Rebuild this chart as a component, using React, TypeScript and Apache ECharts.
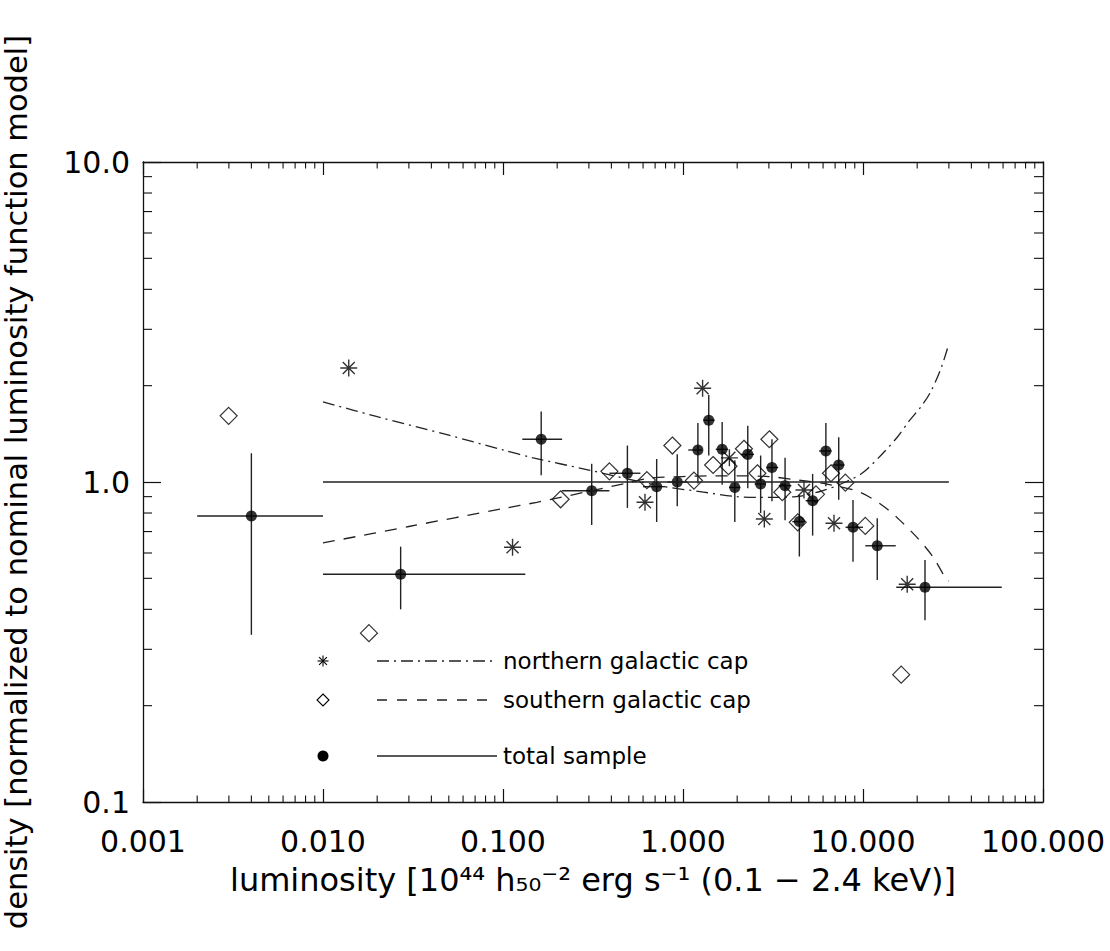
import React, { useEffect, useRef } from "react";
import * as echarts from "echarts";

// ---- total sample (filled circles with error bars) ----
const totalX = [0.004, 0.027, 0.163, 0.311, 0.491, 0.714, 0.929, 1.21, 1.39, 1.65, 1.94, 2.29, 2.7, 3.12, 3.69, 4.43, 5.25, 6.22, 7.33, 8.8, 12.0, 22.1];
const totalY = [0.783, 0.515, 1.36, 0.939, 1.065, 0.967, 1.0, 1.259, 1.56, 1.265, 0.962, 1.22, 0.986, 1.11, 0.974, 0.752, 0.874, 1.25, 1.13, 0.722, 0.632, 0.469];
const totalXLow = [0.002, 0.01, 0.128, 0.213, 0.39, 0.6, 0.82, 1.07, 1.3, 1.52, 1.8, 2.1, 2.5, 2.9, 3.4, 4.05, 4.8, 5.7, 6.75, 8.0, 10.3, 15.3];
const totalXHigh = [0.01, 0.133, 0.213, 0.39, 0.58, 0.8, 1.05, 1.28, 1.5, 1.78, 2.08, 2.48, 2.88, 3.38, 4.0, 4.75, 5.65, 6.7, 7.9, 10.0, 15.2, 59.0];
const totalYLow = [0.333, 0.4, 1.05, 0.734, 0.83, 0.75, 0.84, 0.99, 1.21, 0.98, 0.75, 0.956, 0.8, 0.87, 0.76, 0.585, 0.68, 0.97, 0.88, 0.563, 0.494, 0.37];
const totalYHigh = [1.23, 0.628, 1.66, 1.14, 1.3, 1.18, 1.22, 1.53, 1.87, 1.54, 1.17, 1.5, 1.21, 1.36, 1.19, 0.91, 1.06, 1.53, 1.38, 0.878, 0.77, 0.57];

// ---- northern galactic cap (asterisks) ----
const northX = [0.0139, 0.113, 0.615, 1.285, 1.81, 2.83, 4.7, 6.9, 17.6];
const northY = [2.27, 0.625, 0.864, 1.963, 1.19, 0.766, 0.944, 0.743, 0.479];

// ---- southern galactic cap (diamonds) ----
const southX = [0.00299, 0.018, 0.209, 0.39, 0.63, 0.873, 1.15, 1.47, 1.79, 2.18, 2.59, 3.02, 3.56, 4.34, 5.48, 6.64, 7.98, 10.3, 16.3];
const southY = [1.61, 0.337, 0.883, 1.08, 1.014, 1.3, 1.01, 1.13, 1.12, 1.27, 1.065, 1.36, 0.929, 0.748, 0.915, 1.065, 0.995, 0.729, 0.25];

// ---- model curves ----
const northCurveX = [0.01, 0.02, 0.05, 0.1, 0.147, 0.3, 0.5, 0.79, 1.3, 1.98, 3, 4.24, 6, 8, 10, 12.9, 15.5, 18.2, 21, 23.6, 27, 30];
const northCurveY = [1.78, 1.6, 1.4, 1.26, 1.19, 1.09, 1.02, 0.967, 0.93, 0.9, 0.895, 0.9, 0.94, 1.0, 1.07, 1.23, 1.38, 1.56, 1.72, 1.9, 2.25, 2.7];
const southCurveX = [0.01, 0.03, 0.1, 0.154, 0.3, 0.5, 0.65, 1, 1.5, 2, 3, 4, 6.3, 9.6, 13, 16, 20, 24.5, 28.5, 30];
const southCurveY = [0.645, 0.726, 0.826, 0.864, 0.935, 0.995, 1.027, 1.04, 1.045, 1.045, 1.04, 1.02, 0.985, 0.93, 0.84, 0.76, 0.67, 0.583, 0.505, 0.49];
const totalCurveX = [0.01, 30];
const totalCurveY = [1.0, 1.0];

// ---- axes ----
const xMin = 0.001;
const xMax = 100;
const yMin = 0.1;
const yMax = 10;
const xDecades = [0.001, 0.01, 0.1, 1, 10];
const yDecades = [0.1, 1];
const minorMultipliers = [2, 3, 4, 5, 6, 7, 8, 9];

const legendLabels = ["northern galactic cap", "southern galactic cap", "total sample"];
const xTitle = "luminosity [10⁴⁴ h₅₀⁻² erg s⁻¹ (0.1 − 2.4 keV)]";
const yTitle = "density [normalized to nominal luminosity function model]";

const FONT = "'DejaVu Sans'";
const INK = "#111";
const DASHDOT = [12, 5, 2, 5];
const DASHED = [12, 9];

const asteriskPath =
  "path://M10,0L10,20M0,10L20,10M2.93,2.93L17.07,17.07M2.93,17.07L17.07,2.93";

function buildOption() {
  const zip = (xs: number[], ys: number[]) => xs.map((x, i) => [x, ys[i]]);
  const minorData: number[][] = [];
  xDecades.forEach((d) => minorMultipliers.forEach((m) => minorData.push([d * m, 1, 0])));
  yDecades.forEach((d) => minorMultipliers.forEach((m) => minorData.push([1, d * m, 1])));

  const errData = totalX.map((x, i) => [x, totalY[i], totalXLow[i], totalXHigh[i], totalYLow[i], totalYHigh[i]]);

  const axisCommon = {
    type: "log",
    logBase: 10,
    axisLine: { show: true, lineStyle: { color: INK, width: 1.3 } },
    splitLine: { show: false },
  };

  const legendY = [661, 700, 756];
  const sx = 323;
  const a = 5.5;
  const ad = 3.9;
  const strokeStyle = { stroke: "#000", lineWidth: 1.1 };
  const legendText = { fontFamily: FONT, fontSize: 23, fill: "#000", verticalAlign: "middle" };

  return {
    animation: false,
    backgroundColor: "#fff",
    grid: { left: 143, right: 67, top: 162, bottom: 149, outerBoundsMode: "none", containLabel: false },
    xAxis: [
      {
        ...axisCommon,
        min: xMin,
        max: xMax,
        position: "bottom",
        axisTick: { show: true, inside: true, length: 13, lineStyle: { color: INK, width: 1.2 } },
        axisLabel: {
          show: true,
          margin: 24,
          fontFamily: FONT,
          fontSize: 30,
          color: "#000",
          formatter: (v: number) => v.toFixed(3),
        },
        name: xTitle,
        nameLocation: "middle",
        nameGap: 62,
        nameTextStyle: { fontFamily: FONT, fontSize: 32, color: "#000", verticalAlign: "top" },
      },
      {
        ...axisCommon,
        min: xMin,
        max: xMax,
        position: "top",
        axisTick: { show: true, inside: true, length: 13, lineStyle: { color: INK, width: 1.2 } },
        axisLabel: { show: false },
      },
    ],
    yAxis: [
      {
        ...axisCommon,
        min: yMin,
        max: yMax,
        position: "left",
        axisTick: { show: true, inside: true, length: 18, lineStyle: { color: INK, width: 1.2 } },
        axisLabel: {
          show: true,
          margin: 13,
          fontFamily: FONT,
          fontSize: 30,
          color: "#000",
          formatter: (v: number) => v.toFixed(1),
        },
        name: yTitle,
        nameLocation: "middle",
        nameGap: 111,
        nameTextStyle: { fontFamily: FONT, fontSize: 30.5, color: "#000" },
      },
      {
        ...axisCommon,
        min: yMin,
        max: yMax,
        position: "right",
        axisTick: { show: true, inside: true, length: 18, lineStyle: { color: INK, width: 1.2 } },
        axisLabel: { show: false },
      },
    ],
    series: [
      {
        type: "custom",
        name: "minorTicks",
        silent: true,
        clip: false,
        xAxisIndex: 0,
        yAxisIndex: 0,
        data: minorData,
        encode: { x: 0, y: 1 },
        renderItem: (_p: any, api: any) => {
          const lo = api.coord([xMin, yMin]);
          const hi = api.coord([xMax, yMax]);
          const st = { stroke: INK, lineWidth: 1.1 };
          if (api.value(2) === 0) {
            const px = api.coord([api.value(0), 1])[0];
            return {
              type: "group",
              children: [
                { type: "line", shape: { x1: px, y1: lo[1], x2: px, y2: lo[1] - 6.5 }, style: st },
                { type: "line", shape: { x1: px, y1: hi[1], x2: px, y2: hi[1] + 6.5 }, style: st },
              ],
            };
          }
          const py = api.coord([1, api.value(1)])[1];
          return {
            type: "group",
            children: [
              { type: "line", shape: { x1: lo[0], y1: py, x2: lo[0] + 9, y2: py }, style: st },
              { type: "line", shape: { x1: hi[0], y1: py, x2: hi[0] - 9, y2: py }, style: st },
            ],
          };
        },
      },
      {
        type: "line",
        name: "total model",
        data: zip(totalCurveX, totalCurveY),
        showSymbol: false,
        symbol: "none",
        lineStyle: { color: "#222", width: 1.4, type: "solid" },
        silent: true,
      },
      {
        type: "line",
        name: "northern model",
        data: zip(northCurveX, northCurveY),
        showSymbol: false,
        symbol: "none",
        smooth: 0.3,
        lineStyle: { color: "#222", width: 1.3, type: DASHDOT },
        silent: true,
      },
      {
        type: "line",
        name: "southern model",
        data: zip(southCurveX, southCurveY),
        showSymbol: false,
        symbol: "none",
        smooth: 0.3,
        lineStyle: { color: "#222", width: 1.3, type: DASHED },
        silent: true,
      },
      {
        type: "custom",
        name: "errors",
        silent: true,
        clip: false,
        data: errData,
        encode: { x: 0, y: 1 },
        renderItem: (_p: any, api: any) => {
          const x = api.value(0);
          const y = api.value(1);
          const a1 = api.coord([api.value(2), y]);
          const b1 = api.coord([api.value(3), y]);
          const c1 = api.coord([x, api.value(4)]);
          const d1 = api.coord([x, api.value(5)]);
          const st = { stroke: "#222", lineWidth: 1.4 };
          return {
            type: "group",
            children: [
              { type: "line", shape: { x1: a1[0], y1: a1[1], x2: b1[0], y2: b1[1] }, style: st },
              { type: "line", shape: { x1: c1[0], y1: c1[1], x2: d1[0], y2: d1[1] }, style: st },
            ],
          };
        },
      },
      {
        type: "scatter",
        name: "southern galactic cap",
        data: zip(southX, southY),
        symbol: "diamond",
        symbolSize: 17,
        itemStyle: { color: "transparent", borderColor: "#000", borderWidth: 1.2 },
      },
      {
        type: "scatter",
        name: "northern galactic cap",
        data: zip(northX, northY),
        symbol: asteriskPath,
        symbolSize: 17,
        itemStyle: { color: "transparent", borderColor: "#000", borderWidth: 1.4 },
      },
      {
        type: "scatter",
        name: "total sample",
        data: zip(totalX, totalY),
        symbol: "circle",
        symbolSize: 11,
        itemStyle: { color: "#000" },
      },
    ],
    graphic: [
      {
        type: "group",
        x: sx,
        y: legendY[0],
        children: [
          { type: "line", shape: { x1: 0, y1: -a, x2: 0, y2: a }, style: strokeStyle },
          { type: "line", shape: { x1: -a, y1: 0, x2: a, y2: 0 }, style: strokeStyle },
          { type: "line", shape: { x1: -ad, y1: -ad, x2: ad, y2: ad }, style: strokeStyle },
          { type: "line", shape: { x1: -ad, y1: ad, x2: ad, y2: -ad }, style: strokeStyle },
        ],
      },
      {
        type: "line",
        shape: { x1: 377, y1: legendY[0], x2: 497, y2: legendY[0] },
        style: { stroke: "#222", lineWidth: 1.3, lineDash: DASHDOT },
      },
      { type: "text", x: 503, y: legendY[0], style: { text: legendLabels[0], ...legendText } },
      {
        type: "polygon",
        x: sx,
        y: legendY[1],
        shape: { points: [[0, -6], [6, 0], [0, 6], [-6, 0]] },
        style: { fill: "none", stroke: "#000", lineWidth: 1.1 },
      },
      {
        type: "line",
        shape: { x1: 377, y1: legendY[1], x2: 497, y2: legendY[1] },
        style: { stroke: "#222", lineWidth: 1.3, lineDash: [10, 10] },
      },
      { type: "text", x: 503, y: legendY[1], style: { text: legendLabels[1], ...legendText } },
      {
        type: "circle",
        shape: { cx: sx, cy: legendY[2], r: 5.5 },
        style: { fill: "#000" },
      },
      {
        type: "line",
        shape: { x1: 377, y1: legendY[2], x2: 497, y2: legendY[2] },
        style: { stroke: "#222", lineWidth: 1.4 },
      },
      { type: "text", x: 503, y: legendY[2], style: { text: legendLabels[2], ...legendText } },
    ],
  };
}

export default function App() {
  const ref = useRef<HTMLDivElement>(null);
  useEffect(() => {
    if (!ref.current) return;
    const chart = echarts.init(ref.current, null, { renderer: "svg" });
    chart.setOption(buildOption() as any);
    return () => chart.dispose();
  }, []);
  return (
    <div
      ref={ref}
      style={{ position: "fixed", left: 0, top: 0, width: 1110, height: 951, background: "#fff" }}
    />
  );
}
